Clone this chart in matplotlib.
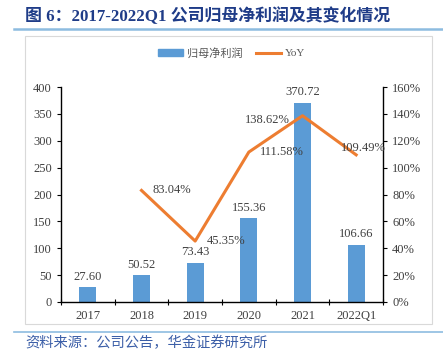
import matplotlib.pyplot as plt
import matplotlib.patches as patches
import matplotlib.lines as mlines
from matplotlib.ticker import FuncFormatter
import numpy as np

plt.rcParams['font.family'] = ['Liberation Serif', 'Noto Sans CJK SC']

years = ['2017', '2018', '2019', '2020', '2021', '2022Q1']
profit = [27.60, 50.52, 73.43, 155.36, 370.72, 106.66]
yoy_years = ['2018', '2019', '2020', '2021', '2022Q1']
yoy = [83.04, 45.35, 111.58, 138.62, 109.49]

bar_color = '#5B9BD5'
line_color = '#ED7D31'
title_color = '#1F3C88'
text_color = '#404040'

fig = plt.figure(figsize=(4.43, 3.52), dpi=100)

# title + rules
fig.text(25/443, 1-16/352, '图 6：2017-2022Q1 公司归母净利润及其变化情况', fontsize=12.2,
         fontweight='bold', color=title_color, va='center', ha='left')
fig.add_artist(mlines.Line2D([14/443, 1], [1-29/352, 1-29/352], color='#8DBCE0', lw=1.8))
fig.add_artist(mlines.Line2D([14/443, 1], [1-332/352, 1-332/352], color='#8DBCE0', lw=1.2))
fig.text(25/443, 1-343/352, '资料来源：公司公告，华金证券研究所', fontsize=10.3,
         style='italic', color='#3C5FA8', va='center', ha='left')

# chart frame
fig.add_artist(patches.Rectangle((25/443, 1-324/352), 407/443, 288/352, fill=False,
                                 edgecolor='#D9D9D9', lw=0.8))

ax = fig.add_axes([61/443, 1-302/352, 322/443, 215/352])
x = np.arange(len(years))
ax.bar(x, profit, width=0.32, color=bar_color, zorder=2)
ax.set_ylim(0, 400)
ax.set_yticks(np.arange(0, 401, 50))
ax.set_xlim(-0.5, len(years) - 0.5)
ax.set_xticks(np.arange(-0.5, len(years), 1))
ax.set_xticklabels([])
ax.set_xticks(x, minor=True)
ax.set_xticklabels(years, minor=True)
ax.tick_params(axis='x', which='major', length=4, direction='inout', width=0.8)
ax.tick_params(axis='x', which='minor', length=0, pad=6, labelsize=9, labelcolor=text_color)
ax.tick_params(axis='y', length=3, width=0.8, labelsize=9, labelcolor=text_color)
ax.spines['top'].set_visible(False)
ax.spines['right'].set_visible(False)
for s in ['left', 'bottom']:
    ax.spines[s].set_linewidth(1.0)

for xi, v in zip(x, profit):
    ax.text(xi, v + 8, f'{v:.2f}', ha='center', va='bottom', fontsize=9, color=text_color)

ax2 = ax.twinx()
xl = [years.index(y) for y in yoy_years]
ax2.plot(xl, yoy, color=line_color, lw=2.2, zorder=3)
ax2.set_ylim(0, 160)
ax2.set_yticks(np.arange(0, 161, 20))
ax2.yaxis.set_major_formatter(FuncFormatter(lambda v, p: f'{v:.0f}%'))
ax2.tick_params(axis='y', length=3, width=0.8, labelsize=9, labelcolor=text_color)
ax2.spines['top'].set_visible(False)
ax2.spines['left'].set_visible(False)
ax2.spines['bottom'].set_visible(False)
ax2.spines['right'].set_linewidth(1.0)

# yoy labels: offsets in points
offs = [(8, 0, 'left'), (8, 0, 'left'), (8, 0, 'left'), (-9, -3, 'right'), (5, 5, 'center')]
for xi, v, (dx, dy, ha) in zip(xl, yoy, offs):
    ax2.annotate(f'{v:.2f}%', (xi, v), xytext=(dx, dy), textcoords='offset points',
                 ha=ha, va='center', fontsize=9, color=text_color)

# legend
h1 = patches.Patch(color=bar_color)
h2 = mlines.Line2D([], [], color=line_color, lw=2.2)
fig.legend([h1, h2], ['归母净利润', 'YoY'], loc='center', bbox_to_anchor=(232/443, 1-53/352),
           ncol=2, frameon=False, fontsize=8, handlelength=2.2, handleheight=0.5,
           columnspacing=1.2, handletextpad=0.4, labelcolor='#595959')

fig.savefig('out.png', dpi=100)
